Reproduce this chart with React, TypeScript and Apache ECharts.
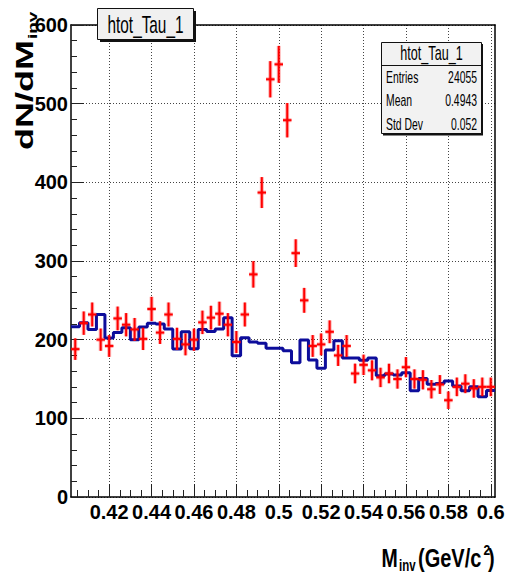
import React, { useEffect, useRef } from 'react';
import * as echarts from 'echarts';

// ---- histogram definition & values ----
const binLow = 0.402;
const binWidth = 0.004;
// red points (data), one per bin
const dataCounts = [188, 221, 232, 200, 192, 227, 219, 213, 201, 239, 209, 232, 201, 194, 200, 222, 228, 233, 219, 197, 232, 283, 387, 531, 550, 479, 310, 250, 192, 194, 210, 180, 192, 157, 168, 161, 152, 157, 150, 165, 150, 149, 137, 143, 123, 140, 144, 138, 140, 140];
// blue step histogram, one per bin
const mcCounts = [216.5, 221.6, 213, 232, 202, 209, 215, 200, 216, 221, 220, 213.5, 188, 210, 188.5, 213, 210.5, 213.5, 228, 179.5, 202.5, 197, 195.5, 189, 189, 186, 170.5, 199.6, 174, 163.6, 187, 198.5, 176.7, 176.7, 173.8, 176.7, 154, 156.5, 155, 158, 135, 150.5, 143.3, 144.3, 147.5, 141, 135, 140, 127.5, 135.5];
const xMajorTicks = [0.42, 0.44, 0.46, 0.48, 0.5, 0.52, 0.54, 0.56, 0.58, 0.6];
const xMinorTicks = [0.405, 0.41, 0.415, 0.425, 0.43, 0.435, 0.445, 0.45, 0.455, 0.465, 0.47, 0.475, 0.485, 0.49, 0.495, 0.505, 0.51, 0.515, 0.525, 0.53, 0.535, 0.545, 0.55, 0.555, 0.565, 0.57, 0.575, 0.585, 0.59, 0.595];
const histTitle = 'htot_Tau_1';
const statLabels = ['Entries', 'Mean', 'Std Dev'];
const statValues = ['24055', '0.4943', '0.052'];

const FONT = '"Liberation Sans", Arial, Helvetica, sans-serif';

export default function App() {
  const ref = useRef<HTMLDivElement>(null);

  useEffect(() => {
    if (!ref.current) return;
    const chart = echarts.init(ref.current, undefined, { renderer: 'svg' });

    const xMin = binLow;
    const xMax = binLow + binWidth * dataCounts.length;

    const pointData = dataCounts.map((v, i) => [binLow + binWidth * (i + 0.5), v, Math.sqrt(v)]);
    const stepData: number[][] = mcCounts.map((v, i) => [binLow + binWidth * i, v]);
    stepData.push([xMax, mcCounts[mcCounts.length - 1]]);

    const statRowY = [77.3, 101, 125];
    const rot = Math.PI / 2;

    const graphic: any[] = [
      // title box
      { type: 'rect', z: 100, shape: { x: 100, y: 11, width: 96, height: 31 }, style: { fill: '#111' } },
      { type: 'rect', z: 101, shape: { x: 97.5, y: 8.5, width: 96, height: 31 }, style: { fill: '#f0f0f0', stroke: '#111', lineWidth: 1 } },
      { type: 'text', z: 102, x: 145.5, y: 24.5, scaleX: 0.64, style: { text: histTitle, font: `24px ${FONT}`, textAlign: 'center', textVerticalAlign: 'middle', fill: '#000' } },
      // stats box
      { type: 'rect', z: 100, shape: { x: 383, y: 44, width: 100, height: 91.5 }, style: { fill: '#111' } },
      { type: 'rect', z: 101, shape: { x: 381.5, y: 42.5, width: 100, height: 91 }, style: { fill: '#f2f2f2', stroke: '#111', lineWidth: 1 } },
      { type: 'line', z: 102, shape: { x1: 381.5, y1: 65.5, x2: 481.5, y2: 65.5 }, style: { stroke: '#111', lineWidth: 1 } },
      { type: 'text', z: 102, x: 431.5, y: 53.5, scaleX: 0.63, style: { text: histTitle, font: `20px ${FONT}`, textAlign: 'center', textVerticalAlign: 'middle', fill: '#000' } },
      // y title (rotated, squeezed across its height)
      { type: 'text', z: 100, x: 25, y: 150, rotation: rot, scaleY: 0.69, style: { text: 'dN/dM', font: `bold 36px ${FONT}`, textAlign: 'left', textVerticalAlign: 'middle', fill: '#000' } },
      { type: 'text', z: 100, x: 32, y: 39, rotation: rot, scaleY: 0.69, style: { text: 'inv', font: `bold 19px ${FONT}`, textAlign: 'left', textVerticalAlign: 'middle', fill: '#000' } },
      // x title
      { type: 'text', z: 100, x: 381.5, y: 558.5, scaleX: 0.78, style: { text: 'M', font: `bold 25px ${FONT}`, textAlign: 'left', textVerticalAlign: 'middle', fill: '#000' } },
      { type: 'text', z: 100, x: 399, y: 565, scaleX: 0.72, style: { text: 'inv', font: `bold 16px ${FONT}`, textAlign: 'left', textVerticalAlign: 'middle', fill: '#000' } },
      { type: 'text', z: 100, x: 418, y: 558.5, scaleX: 0.8, style: { text: '(GeV/c', font: `bold 25px ${FONT}`, textAlign: 'left', textVerticalAlign: 'middle', fill: '#000' } },
      { type: 'text', z: 100, x: 483.5, y: 550, scaleX: 0.8, style: { text: '2', font: `bold 15px ${FONT}`, textAlign: 'left', textVerticalAlign: 'middle', fill: '#000' } },
      { type: 'text', z: 100, x: 488, y: 558.5, scaleX: 0.8, style: { text: ')', font: `bold 25px ${FONT}`, textAlign: 'left', textVerticalAlign: 'middle', fill: '#000' } },
    ];
    statLabels.forEach((lab, i) => {
      graphic.push({ type: 'text', z: 102, x: 386, y: statRowY[i], scaleX: 0.65, style: { text: lab, font: `16px ${FONT}`, textAlign: 'left', textVerticalAlign: 'middle', fill: '#000' } });
      graphic.push({ type: 'text', z: 102, x: 477, y: statRowY[i], scaleX: 0.65, style: { text: statValues[i], font: `16px ${FONT}`, textAlign: 'right', textVerticalAlign: 'middle', fill: '#000' } });
    });

    const gridLine = { color: '#444', width: 1, type: [1, 2] };

    const option: any = {
      animation: false,
      backgroundColor: '#ffffff',
      grid: { left: 71, right: 10, top: 25, bottom: 76, containLabel: false, outerBoundsMode: 'none' },
      xAxis: [
        {
          type: 'value', min: xMin, max: xMax, position: 'bottom',
          axisLine: { show: true, onZero: false, lineStyle: { color: '#000', width: 1.5 } },
          axisTick: { show: true, inside: true, length: 13, customValues: xMajorTicks, lineStyle: { color: '#222', width: 1 } },
          axisLabel: {
            show: true, customValues: xMajorTicks, margin: 5, color: '#000',
            showMinLabel: true, showMaxLabel: true, hideOverlap: false,
            fontFamily: FONT, fontWeight: 'bold', fontSize: 20,
            formatter: (v: number) => String(Number(v.toFixed(3))),
          },
          splitLine: { show: true, lineStyle: gridLine },
          minorTick: { show: false },
        },
        {
          type: 'value', min: xMin, max: xMax, position: 'bottom',
          axisLine: { show: false, onZero: false },
          axisTick: { show: true, inside: true, length: 7, customValues: xMinorTicks, lineStyle: { color: '#222', width: 1 } },
          axisLabel: { show: false },
          splitLine: { show: false },
        },
        {
          type: 'value', min: xMin, max: xMax, position: 'top',
          axisLine: { show: true, onZero: false, lineStyle: { color: '#000', width: 1.5 } },
          axisTick: { show: false }, axisLabel: { show: false }, splitLine: { show: false },
        },
      ],
      yAxis: [
        {
          type: 'value', min: 0, max: 600, interval: 100, position: 'left',
          axisLine: { show: true, onZero: false, lineStyle: { color: '#000', width: 1.5 } },
          axisTick: { show: true, inside: true, length: 13, lineStyle: { color: '#222', width: 1 } },
          minorTick: { show: true, splitNumber: 5, length: 6, lineStyle: { color: '#222', width: 1 } },
          axisLabel: { show: true, margin: 3, color: '#000', fontFamily: FONT, fontWeight: 'bold', fontSize: 20 },
          splitLine: { show: true, lineStyle: gridLine },
          minorSplitLine: { show: false },
        },
        {
          type: 'value', min: 0, max: 600, position: 'right',
          axisLine: { show: true, onZero: false, lineStyle: { color: '#000', width: 1.5 } },
          axisTick: { show: false }, axisLabel: { show: false }, splitLine: { show: false },
        },
      ],
      series: [
        {
          type: 'line', name: 'mc', xAxisIndex: 0, yAxisIndex: 0,
          data: stepData, step: 'end', symbol: 'none', z: 3,
          lineStyle: { color: '#0d0d9b', width: 3 },
        },
        {
          type: 'custom', name: 'data', xAxisIndex: 0, yAxisIndex: 0, z: 4,
          data: pointData,
          encode: { x: 0, y: 1 },
          renderItem: (_params: any, api: any) => {
            const x = api.value(0);
            const y = api.value(1);
            const e = api.value(2);
            const pL = api.coord([x - binWidth / 2, y]);
            const pR = api.coord([x + binWidth / 2, y]);
            const pT = api.coord([x, y + e]);
            const pB = api.coord([x, y - e]);
            const halo = { stroke: 'rgba(255,0,0,0.3)', lineWidth: 4 };
            const solid = { stroke: '#ff0000', lineWidth: 2 };
            return {
              type: 'group',
              children: [
                { type: 'line', shape: { x1: pL[0], y1: pL[1], x2: pR[0], y2: pR[1] }, style: halo },
                { type: 'line', shape: { x1: pT[0], y1: pT[1], x2: pB[0], y2: pB[1] }, style: halo },
                { type: 'line', shape: { x1: pL[0], y1: pL[1], x2: pR[0], y2: pR[1] }, style: solid },
                { type: 'line', shape: { x1: pT[0], y1: pT[1], x2: pB[0], y2: pB[1] }, style: solid },
              ],
            };
          },
        },
      ],
      graphic,
    };

    chart.setOption(option);
    return () => chart.dispose();
  }, []);

  return (
    <div
      ref={ref}
      style={{ position: 'absolute', left: 0, top: 0, width: 505, height: 573, background: '#fff' }}
    />
  );
}
